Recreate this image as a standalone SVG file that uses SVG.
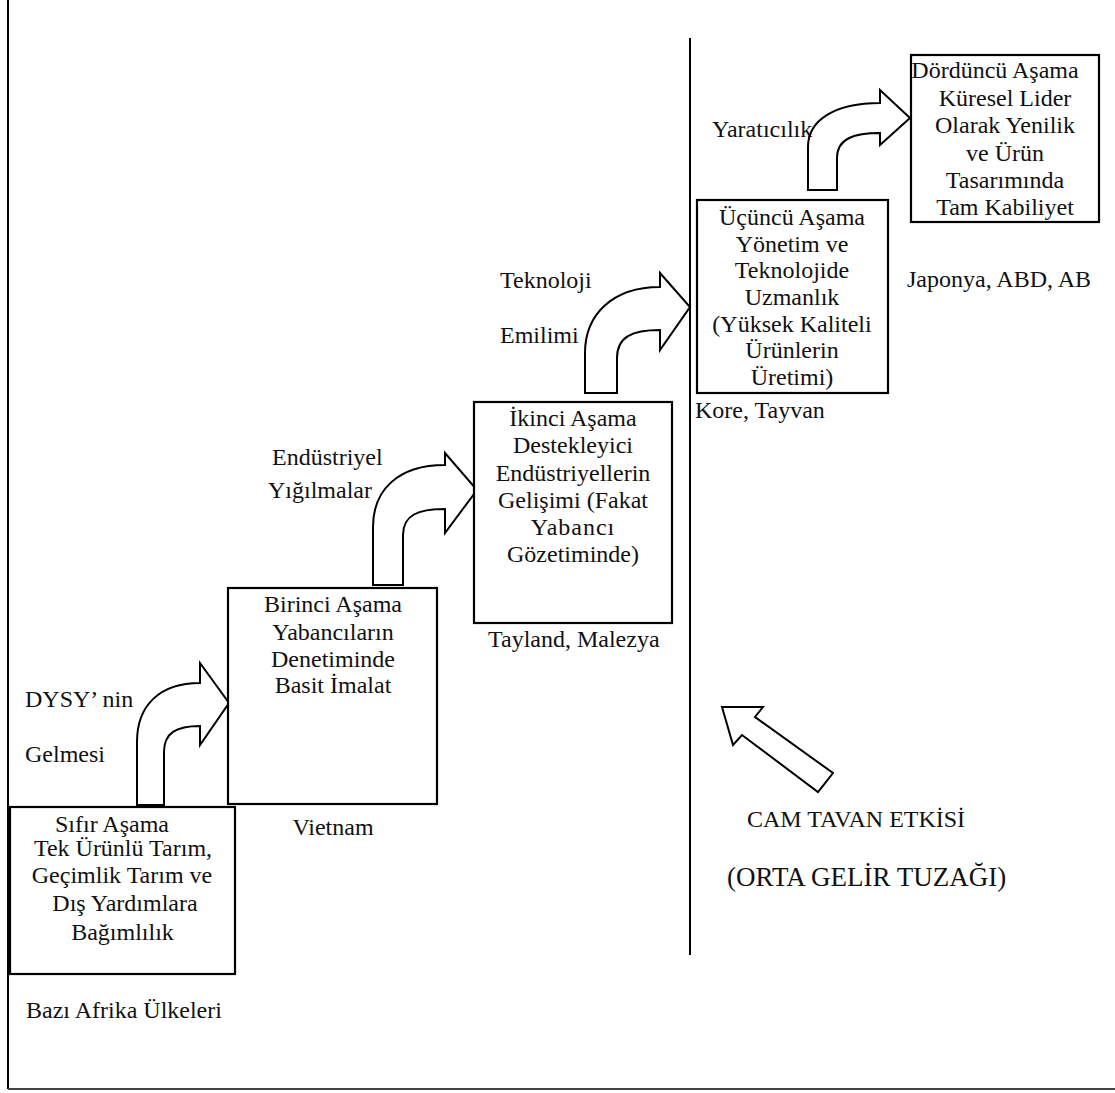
<svg xmlns="http://www.w3.org/2000/svg" width="1115" height="1093" viewBox="0 0 1115 1093">
<style>
text{font-family:"Liberation Serif","Times New Roman",serif;font-size:24px;fill:#111}
.c{text-anchor:middle}
.box{fill:#fff;stroke:#000;stroke-width:2.2}
.arr{fill:#fff;stroke:#000;stroke-width:2;stroke-linejoin:miter}
.ln{stroke:#000;stroke-width:2;fill:none}
</style>
<rect width="1115" height="1093" fill="#fff"/>
<g id="frame">
<line class="ln" x1="8" y1="0" x2="8" y2="1089"/>
<line x1="8" y1="1089" x2="1115" y2="1089" stroke="#444" stroke-width="2"/>
<line class="ln" x1="690" y1="38" x2="690" y2="955"/>
</g>
<g id="connectors">
<path class="arr" d="M137,805 L137,742 C137,705 160,683 200,683 L200,663 L229,703 L200,745 L200,726 C176,726 164,733 164,752 L164,805 Z"/>
<path class="arr" d="M373,585 L373,527 C373,490 398,465 445,465 L445,453 L477,490 L445,533 L445,509 C418,509 403,515 403,535 L403,585 Z"/>
<path class="arr" d="M585,393 L585,353 C585,315 612,287 660,287 L660,273 L690,307 L660,350 L660,330 C632,330 617,337 617,358 L617,393 Z"/>
<path class="arr" d="M808,190 L808,147 C808,120 835,103 880,103 L880,90 L910,118 L880,145 L880,133 C855,133 837,138 837,158 L837,190 Z"/>
<polygon class="arr" points="722,707 763,707 755,717 833,773 818,792 742,735 733,745"/>
</g>
<g id="node0">
<rect class="box" x="10" y="807" width="225" height="167"/>
<text class="c" x="112" y="832">Sıfır Aşama</text>
<text class="c" x="123" y="856">Tek Ürünlü Tarım,</text>
<text class="c" x="122" y="883">Geçimlik Tarım ve</text>
<text class="c" x="125" y="911">Dış Yardımlara</text>
<text class="c" x="122.5" y="940">Bağımlılık</text>
</g>
<g id="node1">
<rect class="box" x="228" y="588" width="209" height="216"/>
<text class="c" x="333" y="612">Birinci Aşama</text>
<text class="c" x="333" y="640">Yabancıların</text>
<text class="c" x="333" y="667">Denetiminde</text>
<text class="c" x="333" y="693">Basit İmalat</text>
</g>
<g id="node2">
<rect class="box" x="474" y="402" width="198" height="221"/>
<text class="c" x="573" y="426">İkinci Aşama</text>
<text class="c" x="573" y="453">Destekleyici</text>
<text class="c" x="573" y="481">Endüstriyellerin</text>
<text class="c" x="573" y="508">Gelişimi (Fakat</text>
<text class="c" x="573" y="535" letter-spacing="1">Yabancı</text>
<text class="c" x="573" y="562">Gözetiminde)</text>
</g>
<g id="node3">
<rect class="box" x="697" y="200" width="191" height="193"/>
<text class="c" x="792" y="225">Üçüncü Aşama</text>
<text class="c" x="792" y="252">Yönetim ve</text>
<text class="c" x="792" y="278">Teknolojide</text>
<text class="c" x="792" y="305">Uzmanlık</text>
<text class="c" x="792" y="332">(Yüksek Kaliteli</text>
<text class="c" x="792" y="358">Ürünlerin</text>
<text class="c" x="792" y="385">Üretimi)</text>
</g>
<g id="node4">
<rect class="box" x="911" y="55" width="188" height="167"/>
<text class="c" x="995" y="78">Dördüncü Aşama</text>
<text class="c" x="1005" y="106">Küresel Lider</text>
<text class="c" x="1005" y="133">Olarak Yenilik</text>
<text class="c" x="1005" y="161">ve Ürün</text>
<text class="c" x="1005" y="188">Tasarımında</text>
<text class="c" x="1005" y="215">Tam Kabiliyet</text>
</g>
<g id="labels">
<text x="25" y="707">DYSY’ nin</text>
<text x="25" y="762">Gelmesi</text>
<text x="272" y="465">Endüstriyel</text>
<text x="268" y="498">Yığılmalar</text>
<text x="500" y="288">Teknoloji</text>
<text x="500" y="343">Emilimi</text>
<text x="712" y="137">Yaratıcılık</text>
<text x="907" y="287">Japonya, ABD, AB</text>
<text x="695" y="418">Kore, Tayvan</text>
<text x="488" y="647">Tayland, Malezya</text>
<text class="c" x="333" y="835">Vietnam</text>
<text x="26" y="1018">Bazı Afrika Ülkeleri</text>
<text x="747" y="827">CAM TAVAN ETKİSİ</text>
<text x="727" y="886" style="font-size:27px">(ORTA GELİR TUZAĞI)</text>
</g>
</svg>
